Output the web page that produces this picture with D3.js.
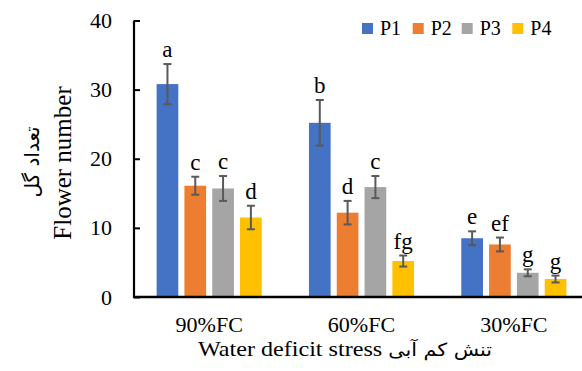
<!DOCTYPE html>
<html>
<head>
<meta charset="utf-8">
<script src="https://cdn.jsdelivr.net/npm/d3@7"></script>
<style>
  html, body { margin: 0; padding: 0; background: #fff; }
  svg text { font-family: "Liberation Serif", "Times New Roman", serif; fill: #000; }
  svg text .fa, svg text.fa { font-family: "DejaVu Sans", sans-serif; }
</style>
</head>
<body>
<svg id="chart" width="582" height="371"></svg>
<script>
// Water deficit levels and populations
const categories = ["90%FC", "60%FC", "30%FC"];
const series = ["P1", "P2", "P3", "P4"];
const colors = ["#4472C4", "#ED7D31", "#A5A5A5", "#FFC000"];

// Mean flower number per population, one array per series (order follows categories)
const P1 = [30.8, 25.2, 8.5];
const P2 = [16.1, 12.2, 7.6];
const P3 = [15.7, 15.9, 3.5];
const P4 = [11.5, 5.2, 2.6];

// Standard errors
const P1_err = [2.9, 3.3, 1.0];
const P2_err = [1.3, 1.7, 1.0];
const P3_err = [1.8, 1.6, 0.5];
const P4_err = [1.7, 0.8, 0.5];

// Mean-comparison letters
const P1_sig = ["a", "b", "e"];
const P2_sig = ["c", "d", "ef"];
const P3_sig = ["c", "c", "g"];
const P4_sig = ["d", "fg", "g"];

const yTicks = [0, 10, 20, 30, 40];

const values = [P1, P2, P3, P4];
const errors = [P1_err, P2_err, P3_err, P4_err];
const sigs = [P1_sig, P2_sig, P3_sig, P4_sig];

const rows = [];
categories.forEach((c, ci) => {
  series.forEach((s, si) => {
    rows.push({ cat: c, ser: s, si, v: values[si][ci], e: errors[si][ci], lab: sigs[si][ci] });
  });
});

const svg = d3.select("#chart");

const x0 = d3.scaleBand().domain(categories).range([133, 590]).paddingInner(0.31).paddingOuter(0.155);
const x1 = d3.scaleBand().domain(series).range([0, x0.bandwidth()]).paddingInner(0.22).paddingOuter(0);
const y = d3.scaleLinear().domain([0, 40]).range([297, 20.5]);
const color = d3.scaleOrdinal().domain(series).range(colors);

// Bars
svg.append("g").selectAll("rect").data(rows).join("rect")
  .attr("x", d => x0(d.cat) + x1(d.ser))
  .attr("y", d => y(d.v))
  .attr("width", x1.bandwidth())
  .attr("height", d => y(0) - y(d.v))
  .attr("fill", d => color(d.ser));

// Error bars
const eg = svg.append("g").attr("stroke", "#595959").attr("stroke-width", 2).attr("fill", "none");
rows.forEach(d => {
  const cx = x0(d.cat) + x1(d.ser) + x1.bandwidth() / 2;
  const top = y(d.v + d.e), bot = y(d.v - d.e);
  eg.append("line").attr("x1", cx).attr("x2", cx).attr("y1", top).attr("y2", bot);
  eg.append("line").attr("x1", cx - 4).attr("x2", cx + 4).attr("y1", top).attr("y2", top);
  eg.append("line").attr("x1", cx - 4).attr("x2", cx + 4).attr("y1", bot).attr("y2", bot);
});

// Significance letters
svg.append("g").selectAll("text").data(rows).join("text")
  .attr("x", d => x0(d.cat) + x1(d.ser) + x1.bandwidth() / 2)
  .attr("y", d => y(d.v + d.e) - 7)
  .attr("text-anchor", "middle")
  .attr("font-size", 23)
  .text(d => d.lab);

// Y axis (ticks point inward)
const yAxis = d3.axisLeft(y).tickValues(yTicks).tickSize(-6).tickPadding(22).tickFormat(d3.format("d"));
const gy = svg.append("g").attr("transform", "translate(134,0)").call(yAxis);
gy.select(".domain").remove();
gy.selectAll(".tick line").attr("stroke", "#000").attr("stroke-width", 2);
gy.selectAll(".tick text").attr("font-size", 22);
svg.append("line").attr("x1", 134).attr("x2", 134).attr("y1", y(40)).attr("y2", y(0) + 1)
  .attr("stroke", "#000").attr("stroke-width", 2.2);

// X axis
const xAxis = d3.axisBottom(x0).tickSize(0).tickPadding(20);
const gx = svg.append("g").attr("transform", `translate(0,${y(0)})`).call(xAxis);
gx.select(".domain").remove();
gx.selectAll(".tick text").attr("font-size", 21).attr("dy", "0.7em")
  .attr("transform", "scale(1.05,1)");
svg.append("line").attr("x1", 133).attr("x2", 590).attr("y1", y(0)).attr("y2", y(0))
  .attr("stroke", "#000").attr("stroke-width", 2.5);

// Axis titles
const xt = svg.append("text").attr("transform", "translate(345,356) scale(1.15,1)")
  .attr("text-anchor", "middle").attr("font-size", 21);
xt.append("tspan").text("Water deficit stress ");
xt.append("tspan").attr("class", "fa").attr("font-size", 18).text("تنش کم آبی");

svg.append("text").attr("transform", "translate(71,163) rotate(-90)")
  .attr("text-anchor", "middle").attr("font-size", 25).text("Flower number");
svg.append("text").attr("class", "fa").attr("transform", "translate(39,162) rotate(-90)")
  .attr("text-anchor", "middle").attr("font-size", 20)
  .text("تعداد گل");

// Legend
const legX = [362, 412.7, 461.7, 512.3];
const leg = svg.append("g").selectAll("g").data(series).join("g")
  .attr("transform", (d, i) => `translate(${legX[i]},23)`);
leg.append("rect").attr("width", 11).attr("height", 11).attr("fill", d => color(d));
leg.append("text").attr("x", 18).attr("y", 12).attr("font-size", 20).text(d => d);
</script>
</body>
</html>
